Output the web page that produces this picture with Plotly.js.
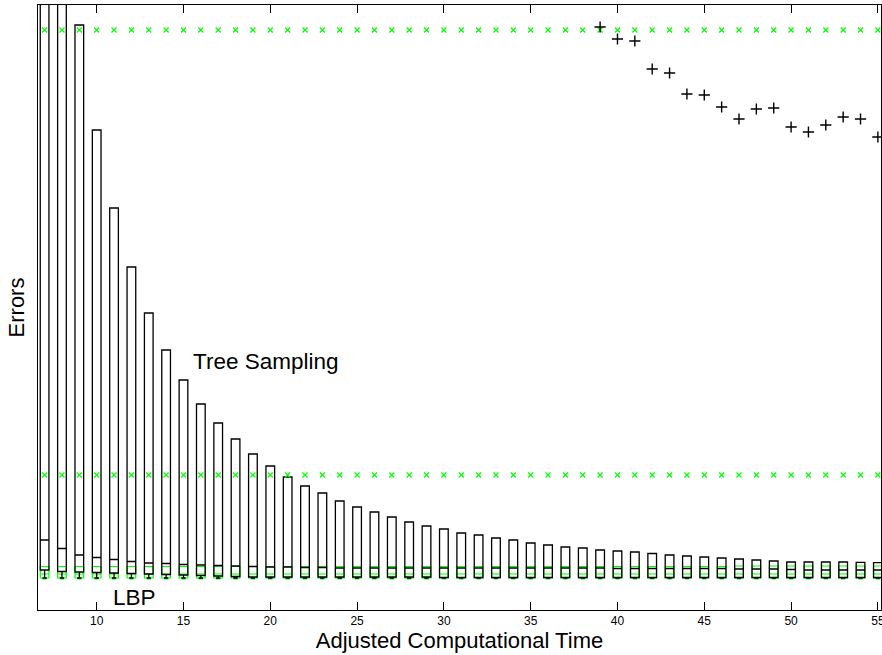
<!DOCTYPE html>
<html>
<head>
<meta charset="utf-8">
<script src="https://cdn.plot.ly/plotly-3.0.1.min.js"></script>
<style>html,body{margin:0;padding:0;background:#fff;}#chart{width:882px;height:655px;}</style>
</head>
<body>
<div id="chart"></div>
<script>
// Positions (adjusted computational time)
const positions = [7,8,9,10,11,12,13,14,15,16,17,18,19,20,21,22,23,24,25,26,27,28,29,30,31,
  32,33,34,35,36,37,38,39,40,41,42,43,44,45,46,47,48,49,50,51,52,53,54,55];

// Tree Sampling box statistics (arbitrary error units)
const treeQ3 = [7.20,6.60,5.85,4.80,4.02,3.43,2.97,2.60,2.30,2.06,1.87,1.71,1.56,1.44,1.33,1.24,1.17,1.09,1.03,0.98,
  0.93,0.88,0.84,0.81,0.77,0.75,0.72,0.70,0.67,0.65,0.63,0.62,0.60,0.59,0.58,0.565,0.55,0.54,0.53,0.52,
  0.51,0.50,0.49,0.48,0.48,0.48,0.48,0.477,0.473];
const treeMedian = [0.70,0.615,0.55,0.525,0.505,0.485,0.47,0.465,0.455,0.45,0.445,0.44,0.435,0.43,0.43,0.425,0.425,0.42,0.42,0.42,
  0.42,0.42,0.42,0.42,0.42,0.42,0.42,0.42,0.42,0.42,0.42,0.42,0.42,0.415,0.415,0.415,0.415,0.415,0.415,0.415,
  0.41,0.41,0.41,0.405,0.40,0.40,0.40,0.40,0.40];
const treeQ1 = [0.40,0.385,0.38,0.375,0.37,0.365,0.36,0.355,0.35,0.345,0.34,0.335,0.33,0.33,0.33,0.33,0.33,0.33,0.33,0.33,
  0.33,0.33,0.33,0.325,0.325,0.325,0.325,0.325,0.325,0.325,0.325,0.325,0.325,0.325,0.325,0.325,0.325,0.325,0.325,0.325,
  0.325,0.325,0.325,0.325,0.325,0.325,0.325,0.325,0.325];
const treeLow = [0.32,0.32,0.32,0.32,0.32,0.32,0.32,0.32,0.32,0.32,0.32,0.32,0.32,0.32,0.32,0.32,0.32,0.32,0.32,0.32,
  0.32,0.32,0.32,0.32,0.32,0.32,0.32,0.32,0.32,0.32,0.32,0.32,0.32,0.32,0.32,0.32,0.32,0.32,0.32,0.32,
  0.32,0.32,0.32,0.32,0.32,0.32,0.32,0.32,0.32];
const treeOutX = [39,40,41,42,43,44,45,46,47,48,49,50,51,52,53,54,55];
const treeOutY = [5.83,5.71,5.69,5.41,5.37,5.16,5.15,5.03,4.91,5.01,5.02,4.83,4.78,4.85,4.93,4.91,4.73];

// LBP box statistics
const lbpQ3 = [0.435,0.435,0.435,0.435,0.435,0.435,0.435,0.435,0.435,0.435,0.435,0.435,0.435,0.435,0.435,0.435,0.435,0.435,0.435,0.435,
  0.435,0.435,0.435,0.435,0.435,0.435,0.435,0.435,0.435,0.435,0.435,0.435,0.435,0.435,0.435,0.435,0.435,0.435,0.435,0.435,
  0.44,0.44,0.44,0.44,0.44,0.44,0.44,0.44,0.44];
const lbpMedian = [0.36,0.36,0.36,0.36,0.36,0.36,0.36,0.36,0.36,0.36,0.36,0.36,0.36,0.36,0.36,0.36,0.36,0.36,0.36,0.36,
  0.36,0.36,0.36,0.36,0.36,0.36,0.36,0.36,0.36,0.36,0.36,0.36,0.36,0.36,0.36,0.36,0.36,0.36,0.36,0.36,
  0.36,0.36,0.36,0.36,0.36,0.36,0.36,0.36,0.36];
const lbpQ1 = [0.32,0.32,0.32,0.32,0.32,0.32,0.32,0.32,0.32,0.32,0.32,0.32,0.32,0.32,0.32,0.32,0.32,0.32,0.32,0.32,
  0.32,0.32,0.32,0.32,0.32,0.32,0.32,0.32,0.32,0.32,0.32,0.32,0.32,0.32,0.32,0.32,0.32,0.32,0.32,0.32,
  0.32,0.32,0.32,0.32,0.32,0.32,0.32,0.32,0.32];
const lbpLow = [0.31,0.31,0.31,0.31,0.31,0.31,0.31,0.31,0.31,0.31,0.31,0.31,0.31,0.31,0.31,0.31,0.31,0.31,0.31,0.31,
  0.31,0.31,0.31,0.31,0.31,0.31,0.31,0.31,0.31,0.31,0.31,0.31,0.31,0.31,0.31,0.31,0.31,0.31,0.31,0.31,
  0.31,0.31,0.31,0.31,0.31,0.31,0.31,0.31,0.31];
const lbpOutHigh = [5.80,5.80,5.80,5.80,5.80,5.80,5.80,5.80,5.80,5.80,5.80,5.80,5.80,5.80,5.80,5.80,5.80,5.80,5.80,5.80,
  5.80,5.80,5.80,5.80,5.80,5.80,5.80,5.80,5.80,5.80,5.80,5.80,5.80,5.80,5.80,5.80,5.80,5.80,5.80,5.80,
  5.80,5.80,5.80,5.80,5.80,5.80,5.80,5.80,5.80];
const lbpOutMid = [1.35,1.35,1.35,1.35,1.35,1.35,1.35,1.35,1.35,1.35,1.35,1.35,1.35,1.35,1.35,1.35,1.35,1.35,1.35,1.35,
  1.35,1.35,1.35,1.35,1.35,1.35,1.35,1.35,1.35,1.35,1.35,1.35,1.35,1.35,1.35,1.35,1.35,1.35,1.35,1.35,
  1.35,1.35,1.35,1.35,1.35,1.35,1.35,1.35,1.35];

const xTicks = [10,15,20,25,30,35,40,45,50,55];

const GREEN = '#00ff00';
const FONT = '"Liberation Sans", Arial, Helvetica, sans-serif';

const traces = [
  {
    type: 'box', name: 'LBP', x: positions,
    q1: lbpQ1, median: lbpMedian, q3: lbpQ3, lowerfence: lbpLow, upperfence: lbpQ3,
    width: 0.5, whiskerwidth: 0.5, boxpoints: false,
    line: {color: GREEN, width: 1.2}, fillcolor: 'rgba(0,0,0,0)', hoverinfo: 'skip'
  },
  {
    type: 'scatter', mode: 'markers', name: 'LBP outliers', x: positions.concat(positions),
    y: lbpOutHigh.concat(lbpOutMid),
    marker: {symbol: 'x-thin-open', size: 5, color: GREEN, line: {color: GREEN, width: 1.2}},
    hoverinfo: 'skip'
  },
  {
    type: 'box', name: 'Tree Sampling', x: positions,
    q1: treeQ1, median: treeMedian, q3: treeQ3, lowerfence: treeLow, upperfence: treeQ3,
    width: 0.5, whiskerwidth: 0.5, boxpoints: false,
    line: {color: '#000000', width: 1.3}, fillcolor: 'rgba(0,0,0,0)', hoverinfo: 'skip'
  },
  {
    type: 'scatter', mode: 'markers', name: 'Tree Sampling outliers', x: treeOutX, y: treeOutY,
    marker: {symbol: 'cross-thin-open', size: 8, color: '#000', line: {color: '#000', width: 1.4}},
    hoverinfo: 'skip'
  }
];

const layout = {
  width: 882, height: 655,
  margin: {l: 38, r: 1, t: 5, b: 45},
  paper_bgcolor: '#fff', plot_bgcolor: '#fff',
  showlegend: false,
  boxmode: 'overlay',
  font: {family: FONT, color: '#000', size: 12},
  xaxis: {
    range: [6.62, 55.18], tickvals: xTicks, ticktext: xTicks.map(String),
    ticks: 'inside', ticklen: 8, tickcolor: '#000', tickwidth: 1,
    showline: true, linecolor: '#000', linewidth: 1, mirror: 'ticks',
    showgrid: false, zeroline: false, ticklabeloverflow: 'allow',
    tickfont: {size: 12, family: FONT},
    title: {text: 'Adjusted Computational Time', font: {size: 22, family: FONT}, standoff: 5}
  },
  yaxis: {
    range: [0, 6.05], showticklabels: false, ticks: '',
    showline: true, linecolor: '#000', linewidth: 1, mirror: true,
    showgrid: false, zeroline: false,
    title: {text: 'Errors', font: {size: 22, family: FONT}, standoff: 6}
  },
  annotations: [
    {x: 19.74, y: 2.49, xref: 'x', yref: 'y', text: 'Tree Sampling', showarrow: false,
     font: {size: 22.5, family: FONT, color: '#000'}},
    {x: 12.2, y: 0.13, xref: 'x', yref: 'y', text: 'LBP', showarrow: false,
     font: {size: 22.5, family: FONT, color: '#000'}}
  ]
};

Plotly.newPlot('chart', traces, layout, {displayModeBar: false, staticPlot: true});
</script>
</body>
</html>
